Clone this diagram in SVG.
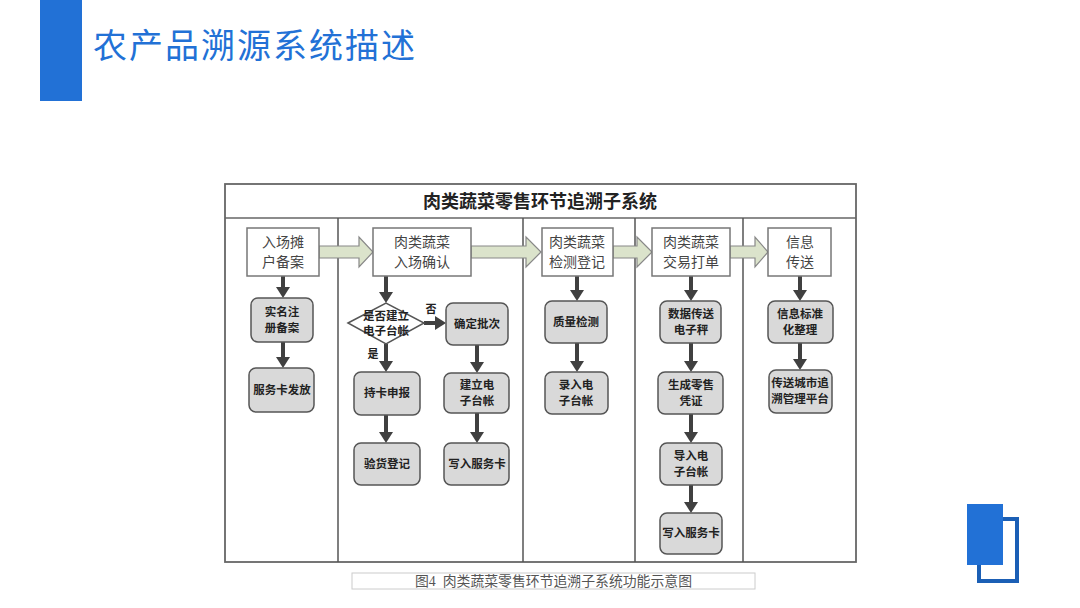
<svg xmlns="http://www.w3.org/2000/svg" width="1080" height="608" viewBox="0 0 1080 608">
<style>
.hdr{fill:#fff;stroke:#777;stroke-width:1.5}
.gb{fill:#d9d9d9;stroke:#555;stroke-width:1.5}
.ht{font-family:"Liberation Serif","Noto Sans CJK SC",serif;font-size:14px;fill:#444;text-anchor:middle}
.gt{font-family:"Liberation Serif","Noto Sans CJK SC",serif;font-size:11.5px;font-weight:bold;fill:#222;text-anchor:middle}
.lbl{font-family:"Liberation Serif","Noto Sans CJK SC",serif;font-size:11px;font-weight:bold;fill:#222;text-anchor:middle}
.big{fill:#dbe3cb;stroke:#888;stroke-width:1.2}
.da{stroke:#404040;stroke-width:4;fill:none;marker-end:url(#ah)}
.lane{stroke:#555;stroke-width:1.5}
</style>
<defs>
<marker id="ah" markerUnits="userSpaceOnUse" markerWidth="14" markerHeight="14" refX="0" refY="7" orient="auto">
<path d="M0,0 L11,7 L0,14 z" fill="#404040"/>
</marker>
</defs>
<rect x="0" y="0" width="1080" height="608" fill="#fff"/>
<!-- header -->
<rect x="40" y="0" width="42" height="101" fill="#2271d6"/>
<text x="93" y="58" font-family="'Noto Sans CJK SC',sans-serif" font-size="34" fill="#2271d6" textLength="322" lengthAdjust="spacing">农产品溯源系统描述</text>
<!-- decoration -->
<rect x="979" y="519" width="38" height="62" fill="none" stroke="#1b5fb5" stroke-width="4"/>
<rect x="967" y="504" width="36" height="61" fill="#2271d6"/>
<!-- diagram frame -->
<rect x="225" y="184" width="631" height="378" fill="#fff" stroke="#666" stroke-width="1.8"/>
<line x1="225" y1="218" x2="856" y2="218" stroke="#666" stroke-width="1.5"/>
<text x="540" y="208" font-family="'Liberation Serif','Noto Sans CJK SC',serif" font-size="18" font-weight="bold" fill="#222" text-anchor="middle">肉类蔬菜零售环节追溯子系统</text>
<line class="lane" x1="338" y1="218" x2="338" y2="562"/>
<line class="lane" x1="523" y1="218" x2="523" y2="562"/>
<line class="lane" x1="635" y1="218" x2="635" y2="562"/>
<line class="lane" x1="743" y1="218" x2="743" y2="562"/>
<!-- big flow arrows -->
<g id="flow-arrows">
<polygon class="big" points="319,246 359,246 359,237 373,252 359,267 359,258 319,258"/>
<polygon class="big" points="471,246 526,246 526,237 541,252 526,267 526,258 471,258"/>
<polygon class="big" points="613,246 637,246 637,237 652,252 637,267 637,258 613,258"/>
<polygon class="big" points="730,246 755,246 755,237 768,252 755,267 755,258 730,258"/>
</g>
<!-- connectors -->
<g id="connectors">
<line class="da" x1="283" y1="276" x2="283" y2="287"/>
<line class="da" x1="283" y1="342" x2="283" y2="357"/>
<line class="da" x1="386" y1="276" x2="386" y2="292"/>
<line class="da" x1="386" y1="344" x2="386" y2="361"/>
<line class="da" x1="386" y1="415" x2="386" y2="432"/>
<line class="da" x1="424" y1="323" x2="435" y2="323"/>
<line class="da" x1="477" y1="345" x2="477" y2="362"/>
<line class="da" x1="477" y1="413" x2="477" y2="432"/>
<line class="da" x1="577" y1="276" x2="577" y2="290"/>
<line class="da" x1="577" y1="343" x2="577" y2="361"/>
<line class="da" x1="691" y1="276" x2="691" y2="290"/>
<line class="da" x1="691" y1="343" x2="691" y2="361"/>
<line class="da" x1="691" y1="414" x2="691" y2="432"/>
<line class="da" x1="691" y1="485" x2="691" y2="502"/>
<line class="da" x1="800" y1="276" x2="800" y2="290"/>
<line class="da" x1="800" y1="343" x2="800" y2="359"/>
</g>
<text class="lbl" x="431" y="313">否</text>
<text class="lbl" x="373" y="358">是</text>
<!-- header nodes -->
<g id="n-ruchang"><rect class="hdr" x="247" y="228" width="72" height="48"/><text class="ht" x="283" y="247">入场摊</text><text class="ht" x="283" y="267">户备案</text></g>
<g id="n-ruchangqueren"><rect class="hdr" x="373" y="228" width="98" height="48"/><text class="ht" x="422" y="247">肉类蔬菜</text><text class="ht" x="422" y="267">入场确认</text></g>
<g id="n-jiance"><rect class="hdr" x="542" y="228" width="71" height="48"/><text class="ht" x="577" y="247">肉类蔬菜</text><text class="ht" x="577" y="267">检测登记</text></g>
<g id="n-jiaoyi"><rect class="hdr" x="652" y="228" width="78" height="48"/><text class="ht" x="691" y="247">肉类蔬菜</text><text class="ht" x="691" y="267">交易打单</text></g>
<g id="n-xinxi"><rect class="hdr" x="768" y="228" width="63" height="48"/><text class="ht" x="800" y="247">信息</text><text class="ht" x="800" y="267">传送</text></g>
<!-- lane 1 -->
<g id="n-shiming"><rect class="gb" x="251" y="298" width="62" height="44" rx="7"/><text class="gt" x="282" y="316">实名注</text><text class="gt" x="282" y="332">册备案</text></g>
<g id="n-fuwuka"><rect class="gb" x="249" y="368" width="65" height="44" rx="7"/><text class="gt" x="282" y="394">服务卡发放</text></g>
<!-- lane 2 -->
<g id="n-shifou"><polygon points="348,323 386,303 424,323 386,344" fill="#fff" stroke="#555" stroke-width="1.5"/><text class="gt" x="386" y="320" font-size="11">是否建立</text><text class="gt" x="386" y="335" font-size="11">电子台帐</text></g>
<g id="n-queding"><rect class="gb" x="446" y="303" width="62" height="42" rx="7"/><text class="gt" x="477" y="328">确定批次</text></g>
<g id="n-chika"><rect class="gb" x="354" y="372" width="66" height="43" rx="7"/><text class="gt" x="387" y="397">持卡申报</text></g>
<g id="n-jianli"><rect class="gb" x="444" y="373" width="65" height="40" rx="7"/><text class="gt" x="477" y="389">建立电</text><text class="gt" x="477" y="405">子台帐</text></g>
<g id="n-yanhuo"><rect class="gb" x="354" y="443" width="66" height="42" rx="7"/><text class="gt" x="387" y="468">验货登记</text></g>
<g id="n-xieru1"><rect class="gb" x="444" y="443" width="65" height="42" rx="7"/><text class="gt" x="477" y="468">写入服务卡</text></g>
<!-- lane 3 -->
<g id="n-zhiliang"><rect class="gb" x="545" y="301" width="62" height="42" rx="7"/><text class="gt" x="576" y="326">质量检测</text></g>
<g id="n-luru"><rect class="gb" x="545" y="372" width="63" height="42" rx="7"/><text class="gt" x="576" y="389">录入电</text><text class="gt" x="576" y="405">子台帐</text></g>
<!-- lane 4 -->
<g id="n-shuju"><rect class="gb" x="660" y="301" width="61" height="42" rx="7"/><text class="gt" x="691" y="318">数据传送</text><text class="gt" x="691" y="334">电子秤</text></g>
<g id="n-shengcheng"><rect class="gb" x="658" y="372" width="65" height="42" rx="7"/><text class="gt" x="691" y="389">生成零售</text><text class="gt" x="691" y="405">凭证</text></g>
<g id="n-daoru"><rect class="gb" x="660" y="443" width="62" height="42" rx="7"/><text class="gt" x="691" y="460">导入电</text><text class="gt" x="691" y="476">子台帐</text></g>
<g id="n-xieru2"><rect class="gb" x="660" y="513" width="62" height="41" rx="7"/><text class="gt" x="691" y="537">写入服务卡</text></g>
<!-- lane 5 -->
<g id="n-biaozhun"><rect class="gb" x="768" y="301" width="65" height="42" rx="7"/><text class="gt" x="800" y="318">信息标准</text><text class="gt" x="800" y="334">化整理</text></g>
<g id="n-chuansong"><rect class="gb" x="769" y="370" width="63" height="43" rx="7"/><text class="gt" x="800" y="387">传送城市追</text><text class="gt" x="800" y="403">溯管理平台</text></g>
<!-- caption -->
<rect x="352" y="573" width="403" height="16" fill="#fff" stroke="#ccc" stroke-width="1"/>
<text x="415" y="586" font-family="'Liberation Serif','Noto Sans CJK SC',serif" font-size="14" fill="#555" textLength="277" lengthAdjust="spacingAndGlyphs" style="white-space:pre">图4  肉类蔬菜零售环节追溯子系统功能示意图</text>
</svg>
